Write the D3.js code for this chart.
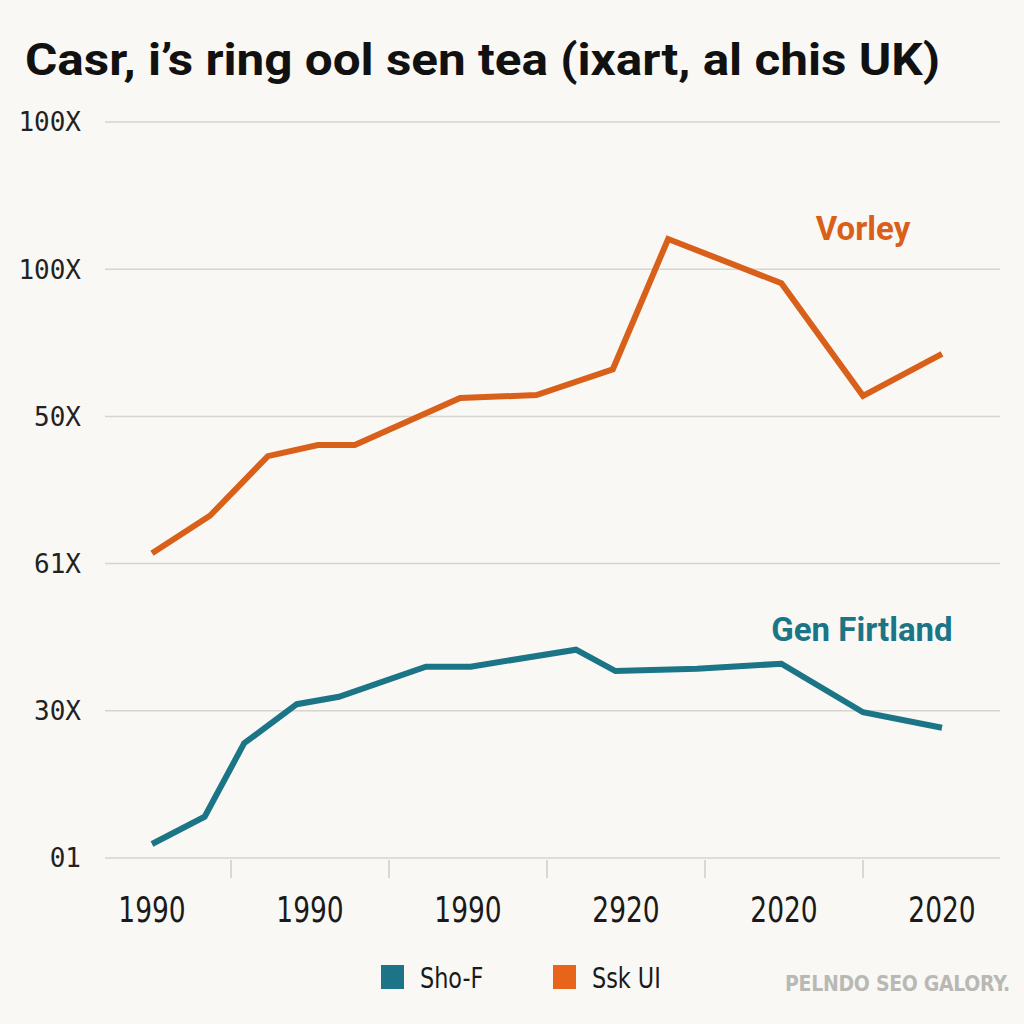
<!DOCTYPE html>
<html><head><meta charset="utf-8">
<script src="https://cdn.jsdelivr.net/npm/d3@7/dist/d3.min.js"></script>
<style>body{margin:0;background:#f9f8f4;}svg{display:block;}</style>
</head><body>
<svg id="c" width="1024" height="1024"></svg>
<script>
const titleText = "Casr, i\u2019s ring ool sen tea (ixart, al chis UK)";
const yTickValues = [0, 20, 40, 60, 80, 100];
const yTickLabels = ["01", "30X", "61X", "50X", "100X", "100X"];
const xLabelYears = [1990, 1996, 2002, 2008, 2014, 2020];
const xLabelTexts = ["1990", "1990", "1990", "2920", "2020", "2020"];
const xTickYears = [1993, 1999, 2005, 2011, 2017];

const orangeYears = [1990, 1992.2, 1994.4, 1996.3, 1997.7, 2001.7, 2004.6, 2007.5, 2009.6, 2013.9, 2017, 2020];
const orangeValues = [41.4, 46.5, 54.6, 56.1, 56.1, 62.5, 62.9, 66.4, 84.1, 78.1, 62.8, 68.5];
const tealYears = [1990, 1992, 1993.5, 1995.5, 1997.1, 2000.4, 2002.1, 2006.1, 2007.6, 2010.7, 2013.9, 2017, 2020];
const tealValues = [1.9, 5.6, 15.6, 20.9, 21.9, 26.0, 26.0, 28.3, 25.4, 25.7, 26.4, 19.8, 17.7];

const seriesNames = ["Sho-F", "Ssk UI"];
const seriesColors = ["#1b7587", "#d9601a"];
const legendColors = ["#1b7587", "#e8641b"];
const annotationTexts = ["Vorley", "Gen Firtland"];

const svg = d3.select("#c");
svg.append("rect").attr("width",1024).attr("height",1024).attr("fill","#f9f8f4");

const x = d3.scaleLinear().domain([1990, 2020]).range([152, 942]);
const y = d3.scaleLinear().domain([0, 100]).range([858, 122]);

// title
svg.append("text").attr("x", 25).attr("y", 75)
  .attr("font-family", "Roboto, 'Liberation Sans', sans-serif").attr("font-weight", 700)
  .attr("font-size", 45).attr("fill", "#111")
  .attr("textLength", 915).attr("lengthAdjust", "spacingAndGlyphs")
  .text(titleText);

// grid
svg.append("g").selectAll("line").data(yTickValues).join("line")
  .attr("x1", 105).attr("x2", 1000)
  .attr("y1", d => y(d)).attr("y2", d => y(d))
  .attr("stroke", "#d6d5d0").attr("stroke-width", 1.5);

// y labels
svg.append("g").selectAll("text").data(yTickValues).join("text")
  .attr("x", 81).attr("y", d => y(d)).attr("dy", "0.36em")
  .attr("text-anchor", "end")
  .attr("font-family", "'DejaVu Sans Mono', monospace").attr("font-size", 26)
  .attr("fill", "#222")
  .text((d, i) => yTickLabels[i]);

// x tick marks
svg.append("g").selectAll("line").data(xTickYears).join("line")
  .attr("x1", d => x(d)).attr("x2", d => x(d))
  .attr("y1", 860).attr("y2", 878)
  .attr("stroke", "#cfcec9").attr("stroke-width", 1.5);

// x labels (tall, condensed)
svg.append("g").selectAll("text").data(xLabelYears).join("text")
  .attr("transform", d => `translate(${x(d)},922) scale(0.95,1.12)`)
  .attr("text-anchor", "middle")
  .attr("font-family", "'DejaVu Sans Condensed', 'DejaVu Sans', sans-serif").attr("font-size", 31)
  .attr("fill", "#1a1a1a")
  .text((d, i) => xLabelTexts[i]);

// lines
const line = d3.line().x(d => x(d[0])).y(d => y(d[1]));
const orangeData = d3.zip(orangeYears, orangeValues);
const tealData = d3.zip(tealYears, tealValues);
svg.append("path").datum(tealData).attr("d", line)
  .attr("fill", "none").attr("stroke", seriesColors[0]).attr("stroke-width", 6)
  .attr("stroke-linejoin", "miter");
svg.append("path").datum(orangeData).attr("d", line)
  .attr("fill", "none").attr("stroke", seriesColors[1]).attr("stroke-width", 6)
  .attr("stroke-linejoin", "miter");

// annotations
svg.append("text").attr("x", 863).attr("y", 240).attr("text-anchor", "middle")
  .attr("font-family", "Roboto, 'Liberation Sans', sans-serif").attr("font-weight", 700)
  .attr("font-size", 33).attr("fill", seriesColors[1]).text(annotationTexts[0]);
svg.append("text").attr("x", 862).attr("y", 641).attr("text-anchor", "middle")
  .attr("font-family", "Roboto, 'Liberation Sans', sans-serif").attr("font-weight", 700)
  .attr("font-size", 33).attr("fill", seriesColors[0]).text(annotationTexts[1]);

// legend
const legendX = [381, 553];
const lg = svg.append("g");
seriesNames.forEach((n, i) => {
  lg.append("rect").attr("x", legendX[i]).attr("y", 965).attr("width", 23).attr("height", 24)
    .attr("fill", legendColors[i]);
  lg.append("text").attr("transform", `translate(${legendX[i] + 39},988) scale(0.92,1.08)`)
    .attr("font-family", "'DejaVu Sans Condensed', 'DejaVu Sans', sans-serif").attr("font-size", 27)
    .attr("fill", "#1a1a1a").text(n);
});

// watermark
svg.append("text").attr("x", 1010).attr("y", 991).attr("text-anchor", "end")
  .attr("font-family", "'DejaVu Sans Condensed', 'DejaVu Sans', sans-serif").attr("font-weight", 600)
  .attr("font-size", 21).attr("fill", "#b8b8b5").attr("letter-spacing", -0.3)
  .text("PELNDO SEO GALORY.");
</script>
</body></html>
